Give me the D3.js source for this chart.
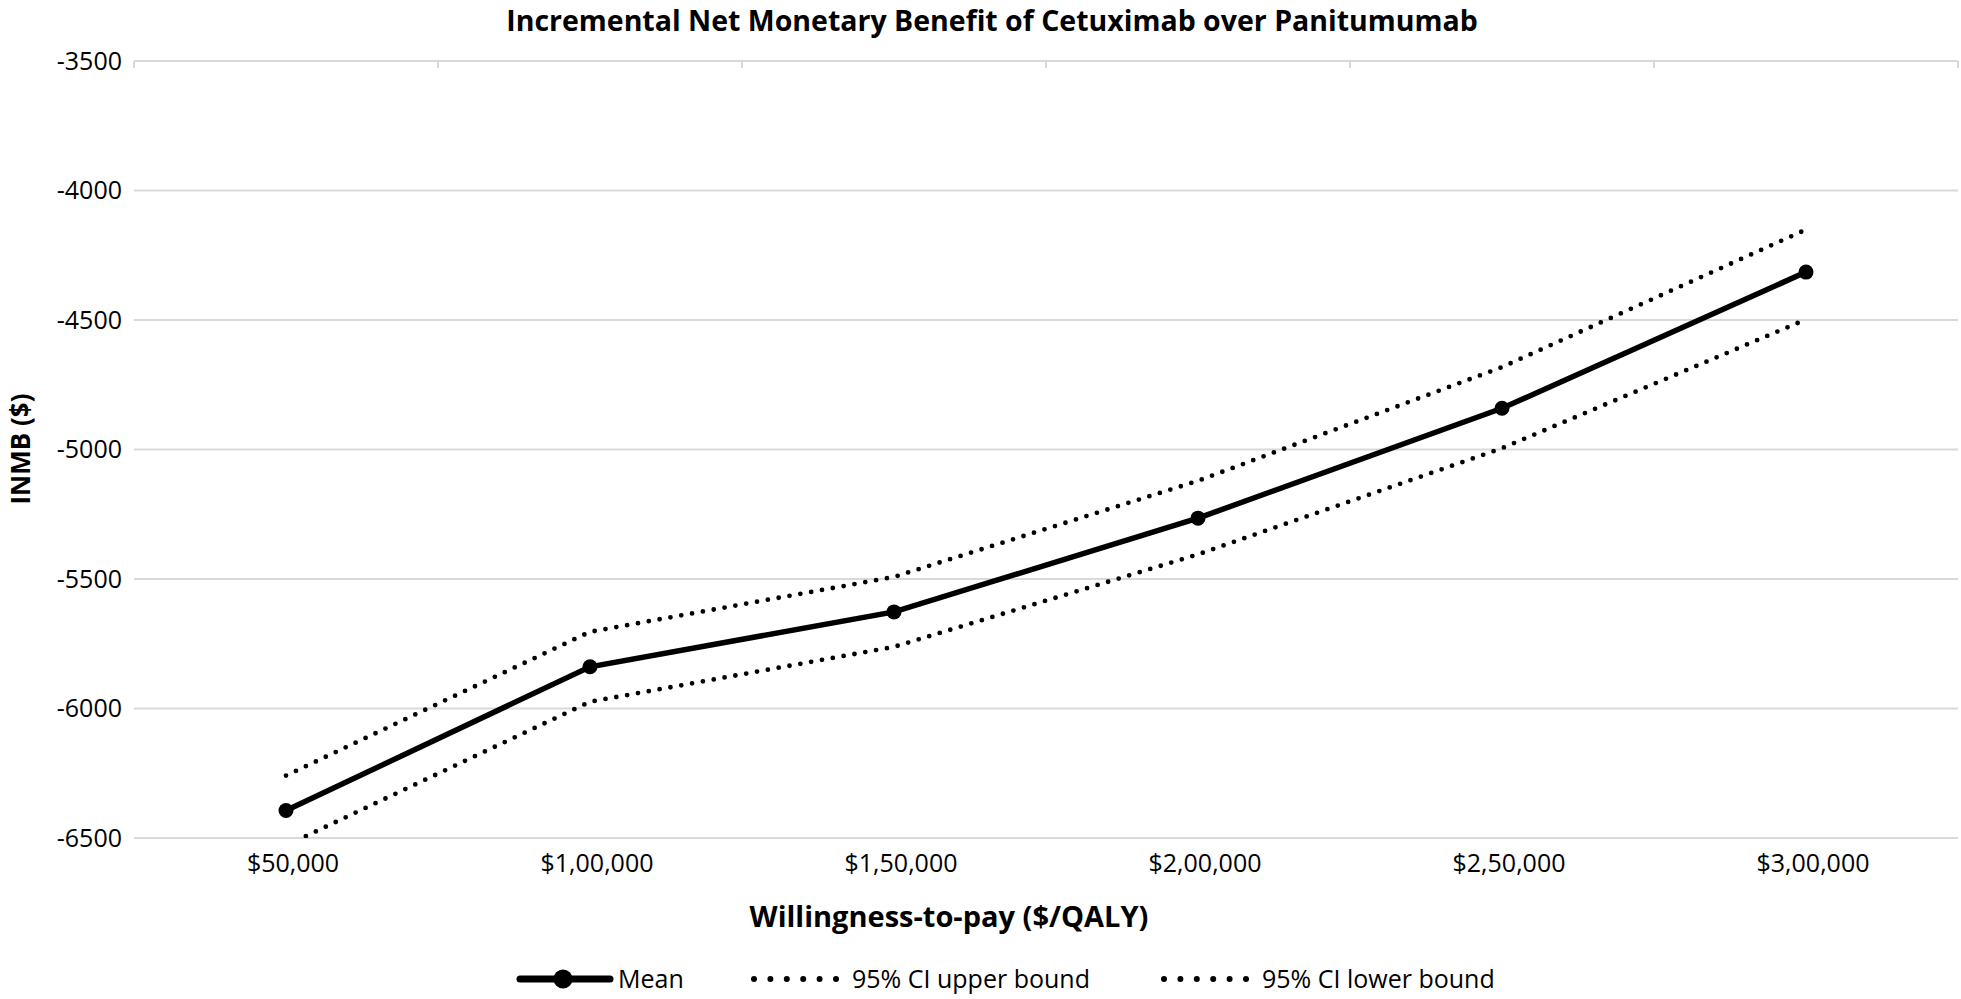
<!DOCTYPE html>
<html>
<head>
<meta charset="utf-8">
<script src="https://cdn.jsdelivr.net/npm/d3@7"></script>
<style>
  body { margin: 0; background: #fff; }
  svg { display: block; font-family: "Open Sans", sans-serif; }
</style>
</head>
<body>
<svg id="chart"></svg>
<script>
// categories on the x axis
const wtpLabels = ["$50,000", "$1,00,000", "$1,50,000", "$2,00,000", "$2,50,000", "$3,00,000"];
// series values
const meanValues = [-6394, -5839, -5627, -5265, -4841, -4315];
const upperValues = [-6259, -5704, -5492, -5121, -4682, -4151];
const lowerValues = [-6529, -5974, -5762, -5405, -4995, -4498];
// y tick labels
const yTicks = [-3500, -4000, -4500, -5000, -5500, -6000, -6500];

const svgWidth = 1961;
const svgHeight = 999;
const margin = { top: 61, right: 3, bottom: 161, left: 134 };
const font = "'Open Sans', sans-serif";

const svg = d3.select("#chart").attr("width", svgWidth).attr("height", svgHeight);

const x = d3.scaleBand()
  .domain(wtpLabels)
  .range([margin.left, svgWidth - margin.right])
  .padding(0);

const y = d3.scaleLinear()
  .domain([-6500, -3500])
  .range([svgHeight - margin.bottom, margin.top]);

const gridColor = "#d9d9d9";

// gridlines
svg.append("g")
  .selectAll("line")
  .data(yTicks)
  .enter()
  .append("line")
  .attr("x1", margin.left)
  .attr("x2", svgWidth - margin.right)
  .attr("y1", d => y(d))
  .attr("y2", d => y(d))
  .style("stroke", gridColor)
  .style("stroke-width", 2);

// category ticks hanging from the top axis line
const boundaries = wtpLabels.map(d => x(d)).concat([x.range()[1]]);
svg.append("g")
  .selectAll("line")
  .data(boundaries)
  .enter()
  .append("line")
  .attr("x1", d => d)
  .attr("x2", d => d)
  .attr("y1", y(-3500))
  .attr("y2", y(-3500) + 7)
  .style("stroke", gridColor)
  .style("stroke-width", 2);

// y axis labels
const yAxis = svg.append("g")
  .attr("transform", `translate(${margin.left}, 0)`)
  .call(d3.axisLeft(y).tickValues(yTicks).tickSize(0).tickPadding(12).tickFormat(d => d));
yAxis.select(".domain").remove();
yAxis.selectAll("text")
  .style("font-family", font)
  .style("font-size", "25px")
  .style("fill", "#000");

// x axis labels
const xAxis = svg.append("g")
  .attr("transform", `translate(0, ${y(-6500)})`)
  .call(d3.axisBottom(x).tickSize(0).tickPadding(16));
xAxis.select(".domain").remove();
xAxis.selectAll("text")
  .attr("dx", 7)
  .style("font-family", font)
  .style("font-size", "25px")
  .style("fill", "#000");

// clip the lines to the plot area
svg.append("clipPath")
  .attr("id", "plot-clip")
  .append("rect")
  .attr("x", margin.left)
  .attr("y", margin.top)
  .attr("width", svgWidth - margin.left - margin.right)
  .attr("height", y(-6500) - margin.top);

const line = d3.line()
  .x((d, i) => x(wtpLabels[i]) + x.bandwidth() / 2)
  .y(d => y(d));

const plot = svg.append("g").attr("clip-path", "url(#plot-clip)");

// dotted bounds
[upperValues, lowerValues].forEach(vals => {
  plot.append("path")
    .datum(vals)
    .attr("d", line)
    .style("fill", "none")
    .style("stroke", "#000")
    .style("stroke-width", 4.8)
    .style("stroke-linecap", "round")
    .style("stroke-dasharray", "0 11");
});

// mean line with markers
plot.append("path")
  .datum(meanValues)
  .attr("d", line)
  .style("fill", "none")
  .style("stroke", "#000")
  .style("stroke-width", 5.5);

plot.selectAll(".dot")
  .data(meanValues)
  .enter()
  .append("circle")
  .attr("class", "dot")
  .attr("cx", (d, i) => x(wtpLabels[i]) + x.bandwidth() / 2)
  .attr("cy", d => y(d))
  .attr("r", 7.5)
  .style("fill", "#000");

// title
svg.append("text")
  .attr("x", 992)
  .attr("y", 31)
  .attr("text-anchor", "middle")
  .style("font-weight", "bold")
  .style("font-size", "28.5px")
  .text("Incremental Net Monetary Benefit of Cetuximab over Panitumumab");

// axis titles
svg.append("text")
  .attr("x", 949)
  .attr("y", 927)
  .attr("text-anchor", "middle")
  .style("font-weight", "bold")
  .style("font-size", "29px")
  .text("Willingness-to-pay ($/QALY)");

svg.append("text")
  .attr("transform", `translate(30, 449) rotate(-90)`)
  .attr("text-anchor", "middle")
  .style("font-weight", "bold")
  .style("font-size", "26px")
  .text("INMB ($)");

// legend
const legendY = 979;
const legend = svg.append("g");

legend.append("line")
  .attr("x1", 520).attr("x2", 610)
  .attr("y1", legendY).attr("y2", legendY)
  .style("stroke", "#000")
  .style("stroke-width", 7)
  .style("stroke-linecap", "round");
legend.append("circle")
  .attr("cx", 563).attr("cy", legendY).attr("r", 9.5)
  .style("fill", "#000");
legend.append("text")
  .attr("x", 618).attr("y", legendY + 9)
  .style("font-size", "25px")
  .text("Mean");

[[754, 852, "95% CI upper bound"], [1164, 1262, "95% CI lower bound"]].forEach(([x0, tx, label]) => {
  legend.append("line")
    .attr("x1", x0).attr("x2", x0 + 82)
    .attr("y1", legendY).attr("y2", legendY)
    .style("stroke", "#000")
    .style("stroke-width", 6)
    .style("stroke-linecap", "round")
    .style("stroke-dasharray", "0 16.4");
  legend.append("text")
    .attr("x", tx).attr("y", legendY + 9)
    .style("font-size", "25px")
    .text(label);
});
</script>
</body>
</html>
